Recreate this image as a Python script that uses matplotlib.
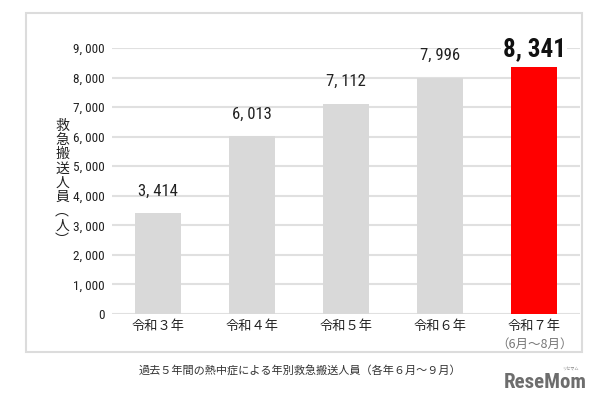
import matplotlib.pyplot as plt
from matplotlib import font_manager
from matplotlib.patches import Rectangle

plt.rcParams['font.family'] = ['Noto Sans CJK JP', 'DejaVu Sans']

# data
years = ['令和３年', '令和４年', '令和５年', '令和６年', '令和７年']
sub_labels = ['', '', '', '', '（6月～8月）']
counts = [3414, 6013, 7112, 7996, 8341]
bar_colors = ['#d9d9d9', '#d9d9d9', '#d9d9d9', '#d9d9d9', '#ff0000']
yticks = [0, 1000, 2000, 3000, 4000, 5000, 6000, 7000, 8000, 9000]

# look for a narrow font for the numbers
fonts = font_manager.fontManager.ttflist
narrow = None
for want in ['Liberation Sans Narrow', 'Roboto Condensed', 'Open Sans Condensed',
             'DejaVu Sans Condensed', 'Noto Sans Condensed']:
    if any(f.name == want for f in fonts):
        narrow = dict(family=want)
        break
if narrow is None:
    cond = [f for f in fonts if 'condensed' in str(f.stretch) or 'Condensed' in f.fname
            or 'Narrow' in f.fname]
    if cond:
        narrow = dict(family=cond[0].name, stretch='condensed')
    else:
        narrow = dict(family='Noto Sans CJK JP')
print(narrow)

def fmt(v):
    return f'{v:,}'.replace(',', ', ')

fig = plt.figure(figsize=(6.1, 4.0), dpi=100)
fig.patch.set_facecolor('white')

# outer frame
fig.patches.append(Rectangle((26 / 610, 1 - 352 / 400), 556 / 610, 339 / 400,
                             transform=fig.transFigure, fill=False,
                             edgecolor='#dcdcdc', linewidth=1.5))

ax = fig.add_axes([112 / 610, 1 - 314 / 400, 468 / 610, 266 / 400])
x = range(len(years))
ax.bar(x, counts, width=0.49, color=bar_colors, zorder=3)
ax.set_xlim(-0.49, 4.485)
ax.set_ylim(0, 9000)
ax.set_yticks(yticks)
ax.set_yticklabels([fmt(t) for t in yticks], fontsize=9.5, color='#222222', **narrow)
ax.grid(axis='y', color='#e0e0e0', linewidth=1.5, zorder=0)
ax.tick_params(axis='y', length=0, pad=5)
ax.tick_params(axis='x', length=0, pad=4)
for s in ax.spines.values():
    s.set_visible(False)
ax.set_xticks(list(x))
ax.set_xticklabels(years, fontsize=9.5, color='#222222')

# second line under the last category
for i, sub in enumerate(sub_labels):
    if sub:
        ax.annotate(sub, (i, 0), xytext=(0, -22), textcoords='offset points',
                    ha='center', va='center', fontsize=9, color='#777777')

# value labels
for i, v in enumerate(counts):
    if i == len(counts) - 1:
        ax.annotate(fmt(v), (i, v), xytext=(0, 13), textcoords='offset points',
                    ha='center', va='center', fontsize=18, fontweight='bold',
                    color='#111111', clip_on=False,
                    bbox=dict(facecolor='white', edgecolor='none', pad=1), **narrow)
    else:
        ax.annotate(fmt(v), (i, v), xytext=(0, 16), textcoords='offset points',
                    ha='center', va='center', fontsize=12, color='#222222', **narrow)

# vertical y label
ylab = ['救', '急', '搬', '送', '人', '員', '︵', '人', '︶']
for k, ch in enumerate(ylab):
    fig.text(62 / 610, 1 - (126 + k * 14.2) / 400, ch, ha='center', va='center',
             fontsize=10, color='#222222')

fig.text(300 / 610, 1 - 370 / 400, '過去５年間の熱中症による年別救急搬送人員（各年６月～９月）',
         ha='center', va='center', fontsize=8, color='#333333')

fig.text(545 / 610, 1 - 382 / 400, 'ReseMom', ha='center', va='center', fontsize=15,
         fontweight='bold', color='#6d6d6d', **narrow)
fig.text(570 / 610, 1 - 369 / 400, 'リセマム', ha='center', va='center', fontsize=3,
         color='#888888')

fig.savefig('out.png', dpi=100, facecolor='white')
